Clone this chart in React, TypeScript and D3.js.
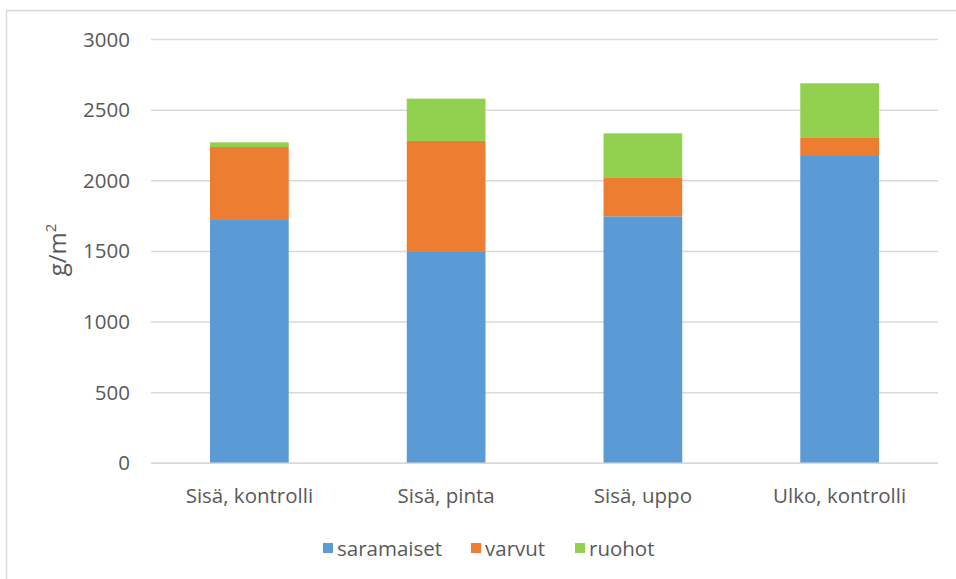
import React, { useEffect, useRef } from "react";
import * as d3 from "d3";

// Biomass by plant group (g/m²) in each treatment
const categories = ["Sisä, kontrolli", "Sisä, pinta", "Sisä, uppo", "Ulko, kontrolli"];
const seriesNames = ["saramaiset", "varvut", "ruohot"];
const saramaiset = [1722, 1496, 1748, 2182];
const varvut = [517, 786, 272, 121];
const ruohot = [33, 299, 316, 387];
const yTicks = [0, 500, 1000, 1500, 2000, 2500, 3000];
const colors = ["#5B9BD5", "#ED7D31", "#92D050"];

const W = 956;
const H = 579;
const FONT = "'Open Sans', 'Liberation Sans', sans-serif";
const TEXT = "#595959";
const GRID = "#d9d9d9";

export default function App() {
  const ref = useRef<SVGSVGElement | null>(null);

  useEffect(() => {
    const svg = d3.select(ref.current);
    svg.selectAll("*").remove();

    const left = 151;
    const right = 938;
    const top = 39.5;
    const bottom = 463.3;

    const x = d3.scaleBand<string>().domain(categories).range([left, right]).paddingInner(0.6).paddingOuter(0.3);
    const y = d3.scaleLinear().domain([0, 3000]).range([bottom, top]);

    // chart-area frame
    svg.append("rect")
      .attr("x", 6.5).attr("y", 10.5)
      .attr("width", W + 10).attr("height", H + 10)
      .attr("fill", "none").attr("stroke", GRID).attr("stroke-width", 1.5);

    // gridlines
    svg.append("g").selectAll("line").data(yTicks).join("line")
      .attr("x1", left).attr("x2", right)
      .attr("y1", (d) => y(d)).attr("y2", (d) => y(d))
      .attr("stroke", GRID).attr("stroke-width", 1.5);

    // y tick labels
    svg.append("g").selectAll("text").data(yTicks).join("text")
      .attr("x", 130).attr("y", (d) => y(d) - 1)
      .attr("text-anchor", "end").attr("dominant-baseline", "central")
      .attr("font-family", FONT).attr("font-size", 20.5).attr("fill", TEXT)
      .text((d) => String(d));

    // stacked bars
    const rows = categories.map((c, i) => ({
      cat: c,
      saramaiset: saramaiset[i],
      varvut: varvut[i],
      ruohot: ruohot[i],
    }));
    const stacked = d3.stack<any>().keys(seriesNames)(rows);

    svg.append("g").selectAll("g").data(stacked).join("g")
      .attr("fill", (_d, i) => colors[i])
      .selectAll("rect").data((d) => d).join("rect")
      .attr("x", (d: any) => x(d.data.cat)!)
      .attr("width", x.bandwidth())
      .attr("y", (d) => y(d[1]))
      .attr("height", (d) => y(d[0]) - y(d[1]));

    // baseline axis line
    svg.append("line")
      .attr("x1", left).attr("x2", right)
      .attr("y1", y(0)).attr("y2", y(0))
      .attr("stroke", GRID).attr("stroke-width", 1.5);

    // category labels
    svg.append("g").selectAll("text").data(categories).join("text")
      .attr("x", (d) => x(d)! + x.bandwidth() / 2)
      .attr("y", 495)
      .attr("text-anchor", "middle").attr("dominant-baseline", "central")
      .attr("font-family", FONT).attr("font-size", 20.5).attr("fill", TEXT)
      .text((d) => d);

    // y axis title
    const title = svg.append("text")
      .attr("transform", "translate(66,250) rotate(-90)")
      .attr("text-anchor", "middle")
      .attr("font-family", FONT).attr("font-size", 24).attr("fill", TEXT);
    title.append("tspan").text("g/m");
    title.append("tspan").attr("dy", -10).attr("font-size", 15).text("2");

    // legend
    const legendX = [323, 471, 575];
    const lg = svg.append("g").selectAll("g").data(seriesNames).join("g")
      .attr("transform", (_d, i) => `translate(${legendX[i]},543)`);
    lg.append("rect").attr("width", 10).attr("height", 10).attr("fill", (_d, i) => colors[i]);
    lg.append("text")
      .attr("x", 14).attr("y", 5)
      .attr("dominant-baseline", "central")
      .attr("font-family", FONT).attr("font-size", 20.5).attr("fill", TEXT)
      .text((d) => d);
  }, []);

  return (
    <svg
      ref={ref}
      width={W}
      height={H}
      style={{ position: "absolute", left: 0, top: 0, background: "#fff", display: "block" }}
    />
  );
}
